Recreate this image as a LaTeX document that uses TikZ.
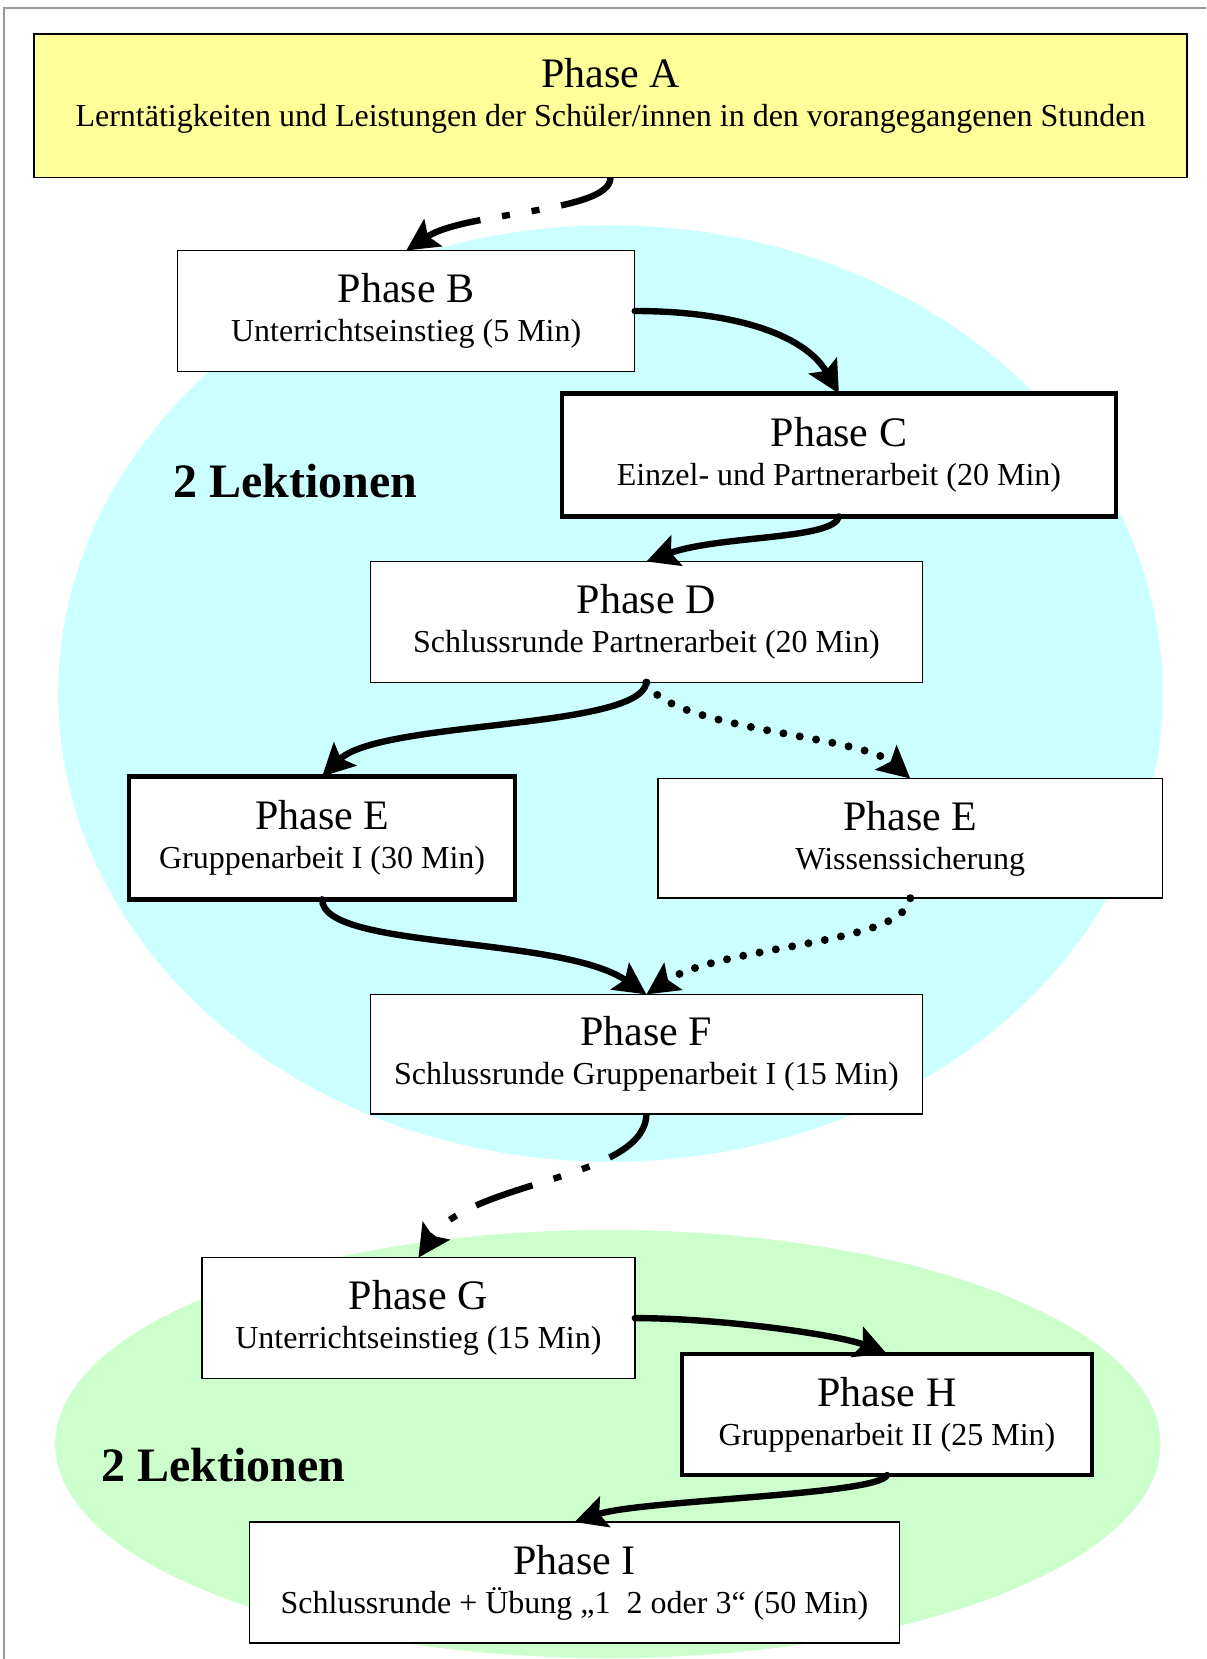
\documentclass[tikz,border=0pt]{standalone}
\usepackage{fontspec}
\setmainfont{Liberation Serif}
\usetikzlibrary{arrows.meta}

\definecolor{phaseyellow}{HTML}{FFFF99}
\definecolor{lektcyan}{HTML}{CCFFFF}
\definecolor{lektgreen}{HTML}{CCFFCC}

\newcommand{\phasetitle}{\fontsize{21}{24}\selectfont}
\newcommand{\phasetext}{\fontsize{16}{19.5}\selectfont}

\tikzset{
  phase/.style={draw, line width=0.75pt, fill=white, align=center,
    inner sep=0pt, outer sep=0pt, minimum height=60.5pt, font=\phasetext},
  thickphase/.style={phase, line width=2.2pt},
  flow/.style={line width=3.2pt, line cap=round,
    -{Stealth[length=16pt,width=16pt,inset=3pt]}},
  dotflow/.style={flow, line width=4pt, dash pattern=on 0pt off 8.3pt},
  dashdotflow/.style={flow, line cap=butt,
    dash pattern=on 30pt off 11pt on 4pt off 11pt on 4pt off 11pt},
  lektion/.style={font=\fontsize{24}{28}\selectfont\bfseries}
}

\begin{document}
\begin{tikzpicture}[x=0.5pt,y=0.5pt]

  \useasboundingbox (0,0) rectangle (1206,-1659);
  \draw[gray!80, line width=1pt] (3.5,-1659) -- (3.5,-8.5) -- (1206,-8.5);

  % the two lessons
  \fill[lektcyan] (610.4,-693.5) ellipse [x radius=552.2, y radius=468.2];
  \fill[lektgreen] (607.8,-1444) ellipse [x radius=552.7, y radius=214];

  \node[lektion] (L1) at (295.2,-481.3) {2 Lektionen};
  \node[lektion] (L2) at (223.2,-1465.2) {2 Lektionen};

  % phases
  \node[phase, fill=phaseyellow, minimum width=576.5pt, minimum height=71.9pt] (A) at (610.5,-105.8)
    {{\phasetitle Phase A}\\Lerntätigkeiten und Leistungen der Schüler/innen in den vorangegangenen Stunden\\[-6pt]\mbox{}};
  \node[phase, minimum width=228.5pt] (B) at (406.2,-311)
    {{\phasetitle Phase B}\\Unterrichtseinstieg (5 Min)};
  \node[thickphase, minimum width=277.2pt, minimum height=61.4pt] (C) at (838.9,-454.9)
    {{\phasetitle Phase C}\\Einzel- und Partnerarbeit (20 Min)};
  \node[phase, minimum width=276.1pt] (D) at (646.4,-622)
    {{\phasetitle Phase D}\\Schlussrunde Partnerarbeit (20 Min)};
  \node[thickphase, minimum width=193pt, minimum height=61.4pt] (EL) at (322.1,-837.9)
    {{\phasetitle Phase E}\\Gruppenarbeit I (30 Min)};
  \node[phase, minimum width=252.3pt, minimum height=59.8pt] (ER) at (910.3,-838.4)
    {{\phasetitle Phase E}\\Wissenssicherung};
  \node[phase, minimum width=276.1pt, minimum height=59.8pt] (F) at (646.4,-1054.2)
    {{\phasetitle Phase F}\\Schlussrunde Gruppenarbeit I (15 Min)};
  \node[phase, minimum width=216.4pt] (G) at (418.4,-1318.1)
    {{\phasetitle Phase G}\\Unterrichtseinstieg (15 Min)};
  \node[thickphase, minimum width=204.8pt] (H) at (887,-1414.5)
    {{\phasetitle Phase H}\\Gruppenarbeit II (25 Min)};
  \node[phase, minimum width=324.8pt] (I) at (574.5,-1582.6)
    {{\phasetitle Phase I}\\Schlussrunde + Übung „1~~2 oder 3“ (50 Min)};

  % arrows
  \draw[dashdotflow] (A.south) .. controls (610,-213) and (466,-211) .. (B.north);
  \draw[flow] (B.east) .. controls (730,-311) and (804,-333) .. (C.north);
  \draw[flow] (C.south) .. controls (835,-540) and (720,-535) .. (D.north);
  \draw[flow] (D.south) .. controls (640,-730) and (380,-720) .. (EL.north);
  \draw[dotflow] (D.south) .. controls (670,-730) and (860,-735) .. (ER.north);
  \draw[flow] (EL.south) .. controls (322,-950) and (560,-935) .. (F.north);
  \draw[dotflow] (ER.south) .. controls (905,-945) and (720,-945) .. (F.north);
  \draw[dashdotflow] (F.south) .. controls (645,-1180) and (470,-1180) .. (G.north);
  \draw[flow] (G.east) .. controls (720,-1318) and (840,-1335) .. (H.north);
  \draw[flow] (H.south) .. controls (880,-1495) and (640,-1500) .. (I.north);

\end{tikzpicture}
\end{document}
